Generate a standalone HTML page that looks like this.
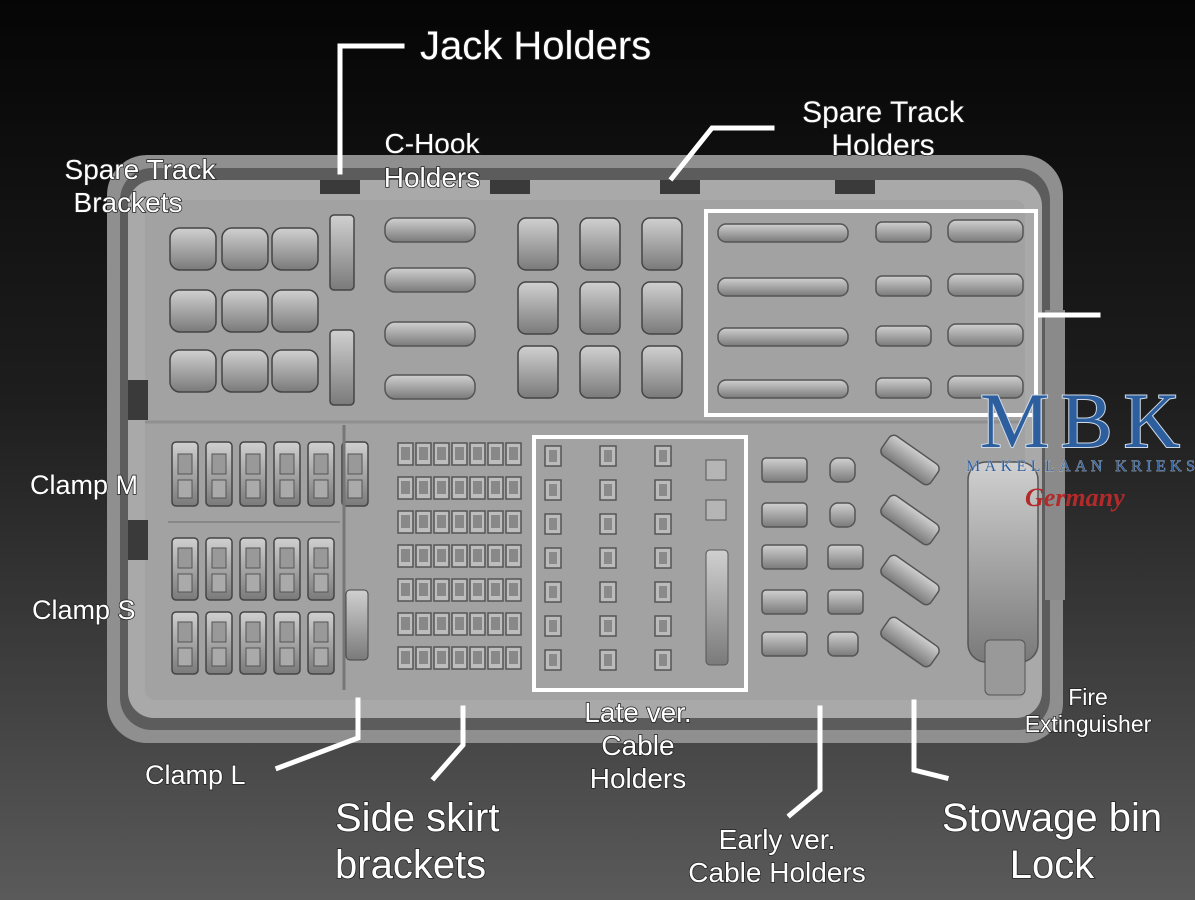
<!DOCTYPE html>
<html><head><meta charset="utf-8"><style>
html,body{margin:0;padding:0;width:1195px;height:900px;overflow:hidden;background:#111}
svg{display:block}
text{font-family:"Liberation Sans",sans-serif;fill:#fff;stroke:#222;stroke-width:1.5px;paint-order:stroke}
</style></head><body>
<svg width="1195" height="900" viewBox="0 0 1195 900" xmlns="http://www.w3.org/2000/svg">
<defs>
<linearGradient id="bg" x1="0" y1="0" x2="0" y2="1">
<stop offset="0" stop-color="#050505"/><stop offset="0.45" stop-color="#1e1e1e"/><stop offset="1" stop-color="#5a5a5a"/>
</linearGradient>
<linearGradient id="part" x1="0" y1="0" x2="0" y2="1">
<stop offset="0" stop-color="#d0d0d0"/><stop offset="1" stop-color="#7a7a7a"/>
</linearGradient>
<pattern id="sq" x="397" y="440" width="18" height="34" patternUnits="userSpaceOnUse">
<rect x="1" y="3" width="15" height="22" fill="#bdbdbd" stroke="#555" stroke-width="1.5"/>
<rect x="4" y="7" width="9" height="13" fill="#888"/>
</pattern>
<pattern id="cl" x="168" y="440" width="34" height="76" patternUnits="userSpaceOnUse">
<rect x="4" y="2" width="26" height="64" rx="4" fill="url(#part)" stroke="#444" stroke-width="1.5"/>
<rect x="10" y="14" width="14" height="20" fill="#999" stroke="#555"/>
<rect x="10" y="40" width="14" height="18" fill="#aaa" stroke="#555"/>
</pattern>
<pattern id="cl2" x="168" y="536" width="34" height="74" patternUnits="userSpaceOnUse">
<rect x="4" y="2" width="26" height="62" rx="4" fill="url(#part)" stroke="#444" stroke-width="1.5"/>
<rect x="10" y="12" width="14" height="20" fill="#999" stroke="#555"/>
<rect x="10" y="38" width="14" height="18" fill="#aaa" stroke="#555"/>
</pattern>
<pattern id="lc" x="540" y="442" width="55" height="34" patternUnits="userSpaceOnUse">
<rect x="5" y="4" width="16" height="20" fill="#bbb" stroke="#555" stroke-width="1.5"/>
<rect x="9" y="8" width="8" height="12" fill="#8a8a8a"/>
</pattern>
</defs>
<rect width="1195" height="900" fill="url(#bg)"/>
<rect x="107" y="155" width="956" height="588" rx="40" fill="#8f8f8f"/>
<rect x="120" y="168" width="930" height="562" rx="32" fill="#5c5c5c"/>
<rect x="128" y="180" width="914" height="538" rx="26" fill="#a9a9a9"/>
<rect x="145" y="200" width="880" height="500" rx="10" fill="#a2a2a2"/>
<line x1="145" y1="422" x2="1025" y2="422" stroke="#909090" stroke-width="3"/>
<g fill="#3a3a3a">
<rect x="320" y="180" width="40" height="14"/><rect x="490" y="180" width="40" height="14"/><rect x="660" y="180" width="40" height="14"/><rect x="835" y="180" width="40" height="14"/>
<rect x="128" y="380" width="20" height="40"/><rect x="128" y="520" width="20" height="40"/>
</g>
<g fill="url(#part)" stroke="#444" stroke-width="1.5">
<rect x="170" y="228" width="46" height="42" rx="10"/><rect x="222" y="228" width="46" height="42" rx="10"/><rect x="272" y="228" width="46" height="42" rx="10"/>
<rect x="170" y="290" width="46" height="42" rx="10"/><rect x="222" y="290" width="46" height="42" rx="10"/><rect x="272" y="290" width="46" height="42" rx="10"/>
<rect x="170" y="350" width="46" height="42" rx="10"/><rect x="222" y="350" width="46" height="42" rx="10"/><rect x="272" y="350" width="46" height="42" rx="10"/>
<rect x="330" y="215" width="24" height="75" rx="4"/><rect x="330" y="330" width="24" height="75" rx="4"/>
</g>
<g fill="url(#part)" stroke="#555" stroke-width="1.5">
<rect x="385" y="218" width="90" height="24" rx="10"/><rect x="385" y="268" width="90" height="24" rx="10"/>
<rect x="385" y="322" width="90" height="24" rx="10"/><rect x="385" y="375" width="90" height="24" rx="10"/>
</g>
<g fill="url(#part)" stroke="#444" stroke-width="1.5">
<rect x="518" y="218" width="40" height="52" rx="8"/><rect x="580" y="218" width="40" height="52" rx="8"/><rect x="642" y="218" width="40" height="52" rx="8"/>
<rect x="518" y="282" width="40" height="52" rx="8"/><rect x="580" y="282" width="40" height="52" rx="8"/><rect x="642" y="282" width="40" height="52" rx="8"/>
<rect x="518" y="346" width="40" height="52" rx="8"/><rect x="580" y="346" width="40" height="52" rx="8"/><rect x="642" y="346" width="40" height="52" rx="8"/>
</g>
<g fill="url(#part)" stroke="#555" stroke-width="1.5">
<rect x="718" y="224" width="130" height="18" rx="8"/><rect x="718" y="278" width="130" height="18" rx="8"/><rect x="718" y="328" width="130" height="18" rx="8"/><rect x="718" y="380" width="130" height="18" rx="8"/>
<rect x="876" y="222" width="55" height="20" rx="6"/><rect x="876" y="276" width="55" height="20" rx="6"/><rect x="876" y="326" width="55" height="20" rx="6"/><rect x="876" y="378" width="55" height="20" rx="6"/>
<rect x="948" y="220" width="75" height="22" rx="8"/><rect x="948" y="274" width="75" height="22" rx="8"/><rect x="948" y="324" width="75" height="22" rx="8"/><rect x="948" y="376" width="75" height="22" rx="8"/>
</g>
<rect x="706" y="211" width="330" height="204" fill="none" stroke="#fff" stroke-width="4"/>
<rect x="168" y="440" width="204" height="76" fill="url(#cl)"/>
<rect x="168" y="536" width="170" height="148" fill="url(#cl2)"/>
<line x1="344" y1="425" x2="344" y2="690" stroke="#777" stroke-width="3"/>
<rect x="346" y="590" width="22" height="70" rx="4" fill="url(#part)" stroke="#444"/>
<line x1="168" y1="522" x2="340" y2="522" stroke="#888" stroke-width="2"/>
<rect x="397" y="440" width="126" height="238" fill="url(#sq)"/>
<rect x="540" y="442" width="165" height="238" fill="url(#lc)"/>
<rect x="706" y="460" width="20" height="20" fill="#b5b5b5" stroke="#555"/><rect x="706" y="500" width="20" height="20" fill="#b5b5b5" stroke="#555"/>
<rect x="706" y="550" width="22" height="115" rx="4" fill="url(#part)" stroke="#555"/>
<rect x="534" y="437" width="212" height="253" fill="none" stroke="#fff" stroke-width="4"/>
<g fill="url(#part)" stroke="#555" stroke-width="1.5">
<rect x="762" y="458" width="45" height="24" rx="4"/><rect x="762" y="503" width="45" height="24" rx="4"/><rect x="762" y="545" width="45" height="24" rx="4"/><rect x="762" y="590" width="45" height="24" rx="4"/><rect x="762" y="632" width="45" height="24" rx="4"/>
<rect x="830" y="458" width="25" height="24" rx="8"/><rect x="830" y="503" width="25" height="24" rx="8"/><rect x="828" y="545" width="35" height="24" rx="4"/><rect x="828" y="590" width="35" height="24" rx="4"/><rect x="828" y="632" width="30" height="24" rx="6"/>
</g>
<g fill="url(#part)" stroke="#555" stroke-width="1.5">
<rect x="880" y="448" width="60" height="24" rx="6" transform="rotate(35 910 460)"/>
<rect x="880" y="508" width="60" height="24" rx="6" transform="rotate(35 910 520)"/>
<rect x="880" y="568" width="60" height="24" rx="6" transform="rotate(35 910 580)"/>
<rect x="880" y="630" width="60" height="24" rx="6" transform="rotate(35 910 642)"/>
</g>
<rect x="968" y="462" width="70" height="200" rx="18" fill="url(#part)" stroke="#555" stroke-width="1.5"/>
<rect x="985" y="640" width="40" height="55" rx="5" fill="#999" stroke="#555"/>
<rect x="1045" y="310" width="20" height="290" fill="#8a8a8a"/>
<text x="980" y="447" font-size="78" textLength="200" style="font-family:'Liberation Serif',serif;fill:#2d5f9e;stroke:#cfd9e6;stroke-width:2px">MBK</text>
<text x="966" y="471" font-size="16" textLength="229" style="font-family:'Liberation Serif',serif;fill:#2d5f9e;stroke:#ddd;stroke-width:0.5px">MAKELLAAN KRIEKS</text>
<text x="1025" y="506" font-size="26" font-style="italic" font-weight="bold" style="font-family:'Liberation Serif',serif;fill:#b22a2a;stroke:none">Germany</text>
<g stroke="#fff" stroke-width="5" fill="none" stroke-linecap="square">
<polyline points="402,46 340,46 340,172"/>
<polyline points="772,128 712,128 672,178"/>
<line x1="1040" y1="315" x2="1098" y2="315"/>
<polyline points="358,700 358,738 278,768"/>
<polyline points="463,708 463,745 434,778"/>
<polyline points="820,708 820,790 790,815"/>
<polyline points="914,702 914,770 946,778"/>
</g>
<text x="420" y="59" font-size="40">Jack Holders</text>
<text x="883" y="122" font-size="30" text-anchor="middle">Spare Track</text>
<text x="883" y="155" font-size="30" text-anchor="middle">Holders</text>
<text x="432" y="153" font-size="28" text-anchor="middle">C-Hook</text>
<text x="432" y="187" font-size="28" text-anchor="middle">Holders</text>
<text x="140" y="179" font-size="28" text-anchor="middle">Spare Track</text>
<text x="128" y="212" font-size="28" text-anchor="middle">Brackets</text>
<text x="30" y="494" font-size="27">Clamp M</text>
<text x="32" y="619" font-size="27">Clamp S</text>
<text x="145" y="784" font-size="27">Clamp L</text>
<text x="335" y="831" font-size="40">Side skirt</text>
<text x="335" y="878" font-size="40">brackets</text>
<text x="638" y="722" font-size="28" text-anchor="middle">Late ver.</text>
<text x="638" y="755" font-size="28" text-anchor="middle">Cable</text>
<text x="638" y="788" font-size="28" text-anchor="middle">Holders</text>
<text x="777" y="849" font-size="28" text-anchor="middle">Early ver.</text>
<text x="777" y="882" font-size="28" text-anchor="middle">Cable Holders</text>
<text x="1052" y="831" font-size="40" text-anchor="middle">Stowage bin</text>
<text x="1052" y="878" font-size="40" text-anchor="middle">Lock</text>
<text x="1088" y="705" font-size="23" text-anchor="middle">Fire</text>
<text x="1088" y="732" font-size="23" text-anchor="middle">Extinguisher</text>
</svg>
</body></html>
